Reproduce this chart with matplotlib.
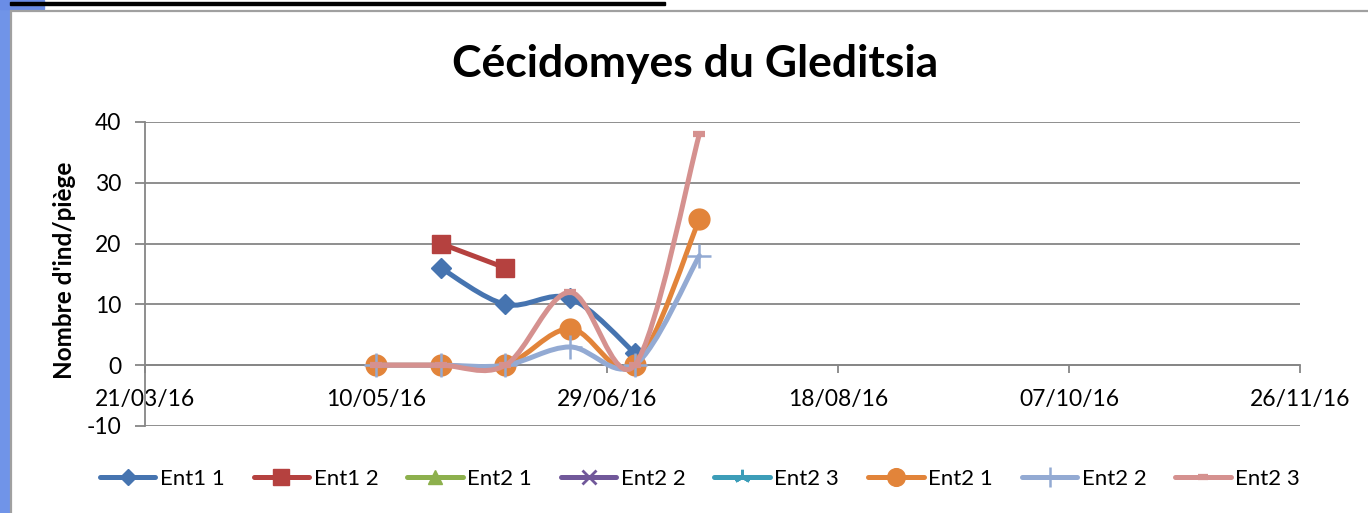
import matplotlib
matplotlib.use("Agg")
import matplotlib.pyplot as plt
import matplotlib.dates as mdates
from matplotlib.path import Path
from matplotlib.patches import PathPatch, Rectangle
import pandas as pd

plt.rcParams["font.family"] = ["Lato", "DejaVu Sans"]
plt.rcParams["axes.unicode_minus"] = False

# sampling dates (every 14 days)
dates = pd.to_datetime(["2016-05-10", "2016-05-24", "2016-06-07",
                        "2016-06-21", "2016-07-05", "2016-07-19"])

# Nombre d'ind/piège, per trap ; None = no reading
ent1_1 = [None, 16, 10, 11, 2, None]
ent1_2 = [None, 20, 16, None, None, None]
ent2_1a = []   # empty series (legend only)
ent2_2a = []
ent2_3a = []
ent2_1 = [0, 0, 0, 6, 0, 24]
ent2_2 = [0, 0, 0, 3, 0, 18]
ent2_3 = [0, 0, 0, 12, 0, 38]

series = [
    ("Ent1 1", ent1_1, "#4674B0", "D", 10, 1.0),
    ("Ent1 2", ent1_2, "#B5413F", "s", 13, 1.0),
    ("Ent2 1", ent2_1a, "#8DB04D", "^", 12, 1.0),
    ("Ent2 2", ent2_2a, "#71589A", "x", 12, 2.0),
    ("Ent2 3", ent2_3a, "#3C9DB8", (3, 2, 0), 13, 2.0),
    ("Ent2 1", ent2_1, "#E2843A", "o", 15, 1.0),
    ("Ent2 2", ent2_2, "#93AAD3", "+", 17, 1.8),
    ("Ent2 3", ent2_3, "#D5918F", "_", 9, 4.5),
]

x_ticks = pd.date_range("2016-03-21", periods=6, freq="50D")


def smooth_path(xs, ys):
    # Excel-like smoothed line: Catmull-Rom segments as cubic Beziers
    pts = list(zip(xs, ys))
    verts = [pts[0]]
    codes = [Path.MOVETO]
    for i in range(len(pts) - 1):
        p0 = pts[i - 1] if i > 0 else pts[i]
        p1, p2 = pts[i], pts[i + 1]
        p3 = pts[i + 2] if i + 2 < len(pts) else pts[i + 1]
        c1 = (p1[0] + (p2[0] - p0[0]) / 6, p1[1] + (p2[1] - p0[1]) / 6)
        c2 = (p2[0] - (p3[0] - p1[0]) / 6, p2[1] - (p3[1] - p1[1]) / 6)
        verts += [c1, c2, p2]
        codes += [Path.CURVE4] * 3
    return Path(verts, codes)


fig = plt.figure(figsize=(13.68, 5.13), dpi=100)
ax = fig.add_axes([145 / 1368, 1 - 426 / 513, 1155 / 1368, 304 / 513])

xnum = mdates.date2num(dates)
handles = []
for k, (name, vals, col, mk, ms, mew) in enumerate(series):
    z = 3 + k * 0.1
    if vals:
        xs = [x for x, v in zip(xnum, vals) if v is not None]
        ys = [v for v in vals if v is not None]
        ax.add_patch(PathPatch(smooth_path(xs, ys), fill=False, ec=col,
                               lw=3.6, capstyle="round", joinstyle="round", zorder=z))
        ax.plot(xs, ys, linestyle="none", marker=mk, ms=ms, color=col,
                mec=col, mew=mew, zorder=z + 0.05)
    h, = ax.plot([], [], color=col, lw=3.6, marker=mk, ms=ms * 0.85,
                 mec=col, mew=mew, label=name, solid_capstyle="round")
    handles.append(h)

ax.set_xlim(mdates.date2num(x_ticks[0]), mdates.date2num(x_ticks[-1]))
ax.set_ylim(-10, 40)
ax.set_yticks([-10, 0, 10, 20, 30, 40])
ax.set_xticks(mdates.date2num(x_ticks))
ax.xaxis.set_major_formatter(mdates.DateFormatter("%d/%m/%y"))

gcol = "#868686"
ax.spines["top"].set_visible(False)
ax.spines["right"].set_visible(False)
ax.spines["bottom"].set_position(("data", 0))
for s in ("left", "bottom"):
    ax.spines[s].set_color(gcol)
    ax.spines[s].set_linewidth(1.3)
ax.yaxis.grid(True, color=gcol, lw=1.3)
ax.set_axisbelow(True)
ax.tick_params(axis="y", length=7, width=1.3, color=gcol, labelsize=16.5, pad=10)
ax.tick_params(axis="x", length=6, width=1.3, color=gcol, labelsize=16.5, pad=11)

fig.text(695 / 1368, 1 - 77 / 513, "Cécidomyes du Gleditsia", ha="center",
         va="baseline", fontsize=32, fontweight="bold")
fig.text(65 / 1368, 1 - 270 / 513, "Nombre d'ind/piège", rotation=90,
         ha="center", va="center", fontsize=17.5, fontweight="bold")

fig.legend(handles=handles, loc="center", bbox_to_anchor=(700 / 1368, 1 - 479 / 513),
           ncol=8, frameon=False, fontsize=16, handlelength=2.5, handletextpad=0.2,
           columnspacing=1.3)

# chart frame and page bits around it
fig.patches.append(Rectangle((0, 0), 10 / 1368, 1, transform=fig.transFigure,
                             color="#7094E8", zorder=0))
fig.patches.append(Rectangle((0, 1 - 9 / 513), 44 / 1368, 9 / 513,
                             transform=fig.transFigure, color="#6A8DE6", zorder=0))
fig.patches.append(Rectangle((10 / 1368, 1 - 5 / 513), 655 / 1368, 3.5 / 513,
                             transform=fig.transFigure, color="black", zorder=1))
fig.patches.append(Rectangle((11 / 1368, -0.01), 1.0, 1 - 11 / 513 + 0.01,
                             transform=fig.transFigure, fill=False,
                             ec="#A0A0A0", lw=1.6, zorder=1))

fig.savefig("out.png", dpi=100)
